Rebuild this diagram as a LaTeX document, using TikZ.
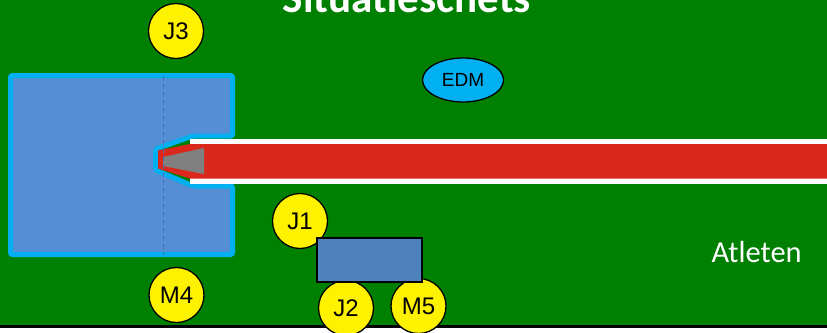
\documentclass[tikz,border=0pt]{standalone}
\usepackage{fontspec}
\setmainfont{Liberation Sans}
\newfontfamily\calibri{Carlito}
\usetikzlibrary{shapes.geometric}
\definecolor{veld}{RGB}{0,128,0}
\definecolor{kooi}{RGB}{85,142,213}
\definecolor{kooirand}{RGB}{0,176,240}
\definecolor{baan}{RGB}{218,41,28}
\definecolor{blok}{RGB}{79,129,189}
\definecolor{hartlijn}{RGB}{66,112,178}

\begin{document}
\begin{tikzpicture}[x=1pt,y=-1pt,
  post/.style={circle,draw=black,line width=1.3pt,fill=yellow,minimum size=55pt,inner sep=0pt,font=\fontsize{24}{24}\selectfont},
  meetpost/.style={ellipse,draw=black,line width=1.3pt,fill=kooirand,minimum width=81pt,minimum height=44pt,inner sep=0pt,font=\fontsize{19}{19}\selectfont},
  wagen/.style={rectangle,draw=black,line width=1.2pt,fill=blok,minimum width=105pt,minimum height=44pt,inner sep=0pt}]
\clip (0,0) rectangle (827,332);
\fill[white] (0,0) rectangle (827,332);
\fill[veld] (0,0) rectangle (827,325);
\fill[black] (0,325) rectangle (827,327.5);

\node[anchor=base,text=white,font=\calibri\bfseries\fontsize{43}{43}\selectfont] (titel) at (407,12.5) {Situatieschets};

% kooi met opening
\draw[kooirand,line width=5pt,fill=kooi,rounded corners=2pt]
  (10.5,75.5) -- (232.5,75.5) -- (232.5,136) -- (193,136) -- (155.5,149) -- (155.5,170)
  -- (193,186) -- (232.5,186) -- (232.5,254.5) -- (10.5,254.5) -- cycle;

% aanloopbaan
\fill[white] (190,138.5) rectangle (830,183.5);
\fill[baan] (830,144) -- (190,144) -- (158,150.5) -- (158,168.5) -- (190,178.5) -- (830,178.5) -- cycle;
\fill[gray] (163,157) -- (204,148) -- (204,174) -- (163,166) -- cycle;
\draw[hartlijn,line width=1pt,dash pattern=on 5pt off 3pt] (163,75.5) -- (163,254.5);

\node[meetpost] (edm) at (463,80) {EDM};

\node[post] (j3) at (176,31) {J3};
\node[post] (m4) at (176.5,295) {M4};
\node[post] (j1) at (300,221) {J1};
\node[post] (j2) at (346,308) {J2};
\node[post] (m5) at (418.5,306) {M5};
\node[wagen] (tafel) at (369.5,260) {};

\node[anchor=base west,text=white,font=\calibri\fontsize{30.5}{30.5}\selectfont] (atleten) at (708,262) {Atleten};
\end{tikzpicture}
\end{document}
